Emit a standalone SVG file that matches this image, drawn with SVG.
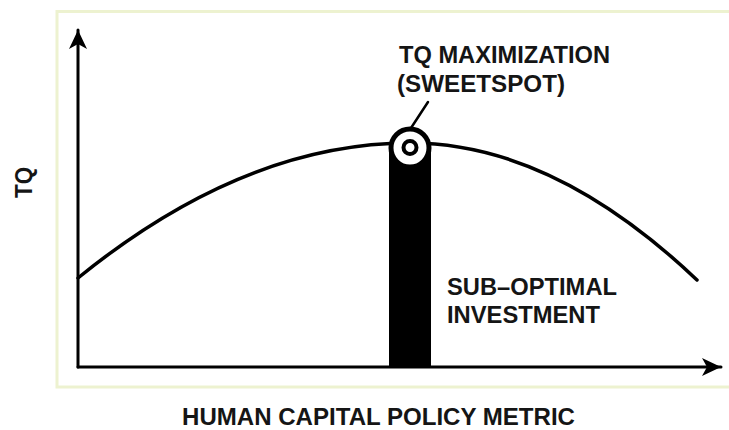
<svg xmlns="http://www.w3.org/2000/svg" width="729" height="430" viewBox="0 0 729 430">
<style>
.lbl{font-family:"Liberation Sans",Arial,sans-serif;font-weight:bold;font-size:23px;fill:#151515}
.ln{fill:none;stroke:#000;stroke-linecap:round;stroke-linejoin:round}
</style>
<defs>
<marker id="ah" markerUnits="userSpaceOnUse" markerWidth="22" markerHeight="22" viewBox="-20 -11 22 22" refX="0" refY="0" orient="auto">
<path d="M0,0 L-19,-9 L-14,0 L-19,9 Z" fill="#000"/>
</marker>
</defs>
<rect width="729" height="430" fill="#fff"/>
<rect x="57" y="11.5" width="674" height="375.5" fill="none" stroke="#edf2d0" stroke-width="3"/>
<g id="connectors">
<path class="ln" d="M78,367 L78,30" stroke-width="3" marker-end="url(#ah)"/>
<path class="ln" d="M78,367 L721,367" stroke-width="3" marker-end="url(#ah)"/>
<path class="ln" d="M78,278 Q244,143 410,143 Q553,143 697,280" stroke-width="3.5"/>
<path class="ln" d="M411,128 L428,102" stroke-width="2.5"/>
</g>
<g id="bar">
<rect x="389" y="150" width="42" height="217" fill="#000"/>
</g>
<g id="sweetspot">
<circle cx="410" cy="148" r="19" fill="#fff" stroke="#000" stroke-width="5"/>
<circle cx="410" cy="147.5" r="6.5" fill="#fff" stroke="#000" stroke-width="4"/>
</g>
<g id="label-max">
<text class="lbl" x="399" y="63" textLength="211" lengthAdjust="spacingAndGlyphs">TQ MAXIMIZATION</text>
<text class="lbl" x="397" y="92" textLength="168" lengthAdjust="spacingAndGlyphs">(SWEETSPOT)</text>
</g>
<g id="label-sub">
<text class="lbl" x="447" y="295" textLength="170" lengthAdjust="spacingAndGlyphs">SUB–OPTIMAL</text>
<text class="lbl" x="447" y="323" textLength="153" lengthAdjust="spacingAndGlyphs">INVESTMENT</text>
</g>
<g id="axis-x-label">
<text class="lbl" x="182" y="425" textLength="393" lengthAdjust="spacingAndGlyphs">HUMAN CAPITAL POLICY METRIC</text>
</g>
<g id="axis-y-label">
<text class="lbl" transform="translate(32,198) rotate(-90)" x="0" y="0" textLength="31" lengthAdjust="spacingAndGlyphs">TQ</text>
</g>
</svg>
